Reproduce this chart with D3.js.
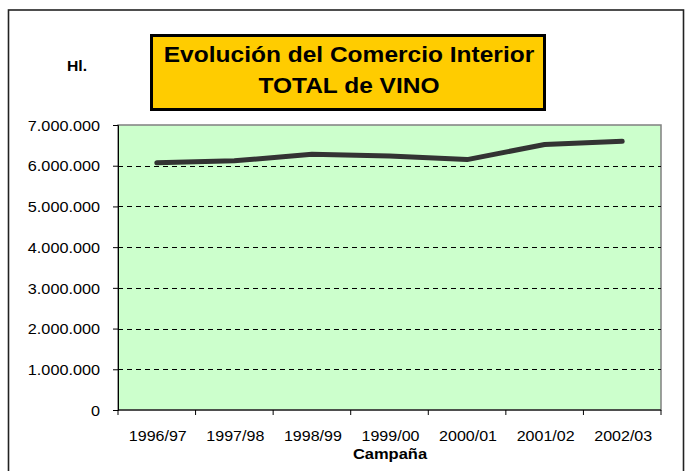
<!DOCTYPE html>
<html>
<head>
<meta charset="utf-8">
<script src="https://cdn.jsdelivr.net/npm/d3@7"></script>
<style>
  body { margin: 0; background: #fff; }
  text { font-family: Arial, "Liberation Sans", sans-serif; }
</style>
</head>
<body>
<svg id="chart" width="691" height="471"></svg>
<script>
// campañas y total de vino (Hl.)
var campanas = ['1996/97', '1997/98', '1998/99', '1999/00', '2000/01', '2001/02', '2002/03']
var totalVino = [6070000, 6120000, 6280000, 6240000, 6150000, 6520000, 6600000]
var yTicks = [0, 1000000, 2000000, 3000000, 4000000, 5000000, 6000000, 7000000]

var width = 691, height = 471
var plot = {left: 118, right: 661, top: 125, bottom: 410}

var svg = d3.select('#chart')

// the original text is a bit wider than Arial, stretch it horizontally
function stretch(sel, k) {
    sel.each(function() {
        var t = d3.select(this)
        var x = +t.attr('x') || 0
        t.attr('x', x / k).attr('transform', 'scale(' + k + ',1)')
    })
}

// marco exterior
svg.append('rect')
    .attr('x', 8.5).attr('y', 10)
    .attr('width', 675).attr('height', 475)
    .attr('fill', 'none').attr('stroke', '#222').attr('stroke-width', 1.6)

var x = d3.scaleBand().domain(campanas).range([plot.left, plot.right])
var y = d3.scaleLinear().domain([0, 7000000]).range([plot.bottom, plot.top])

// fondo del área de trazado
svg.append('rect')
    .attr('x', plot.left).attr('y', plot.top)
    .attr('width', plot.right - plot.left).attr('height', plot.bottom - plot.top)
    .attr('fill', '#ccffcc').attr('stroke', '#808080').attr('stroke-width', 1.5)

// líneas de división discontinuas
svg.append('g')
    .selectAll('line')
    .data(yTicks.filter(d => d > 0 && d < 7000000))
    .enter()
    .append('line')
    .attr('x1', plot.left).attr('x2', plot.right)
    .attr('y1', d => Math.round(y(d)) + 0.5).attr('y2', d => Math.round(y(d)) + 0.5)
    .attr('stroke', '#000').attr('stroke-dasharray', '5,4')

var fmt = d => d === 0 ? '0' : d3.format(',')(d).replace(/,/g, '.')

// eje Y
var yAxis = svg.append('g')
    .attr('transform', 'translate(' + plot.left + ',0)')
    .call(d3.axisLeft(y).tickValues(yTicks).tickFormat(fmt).tickSize(5).tickPadding(13))
yAxis.select('.domain').attr('stroke', '#000')
yAxis.selectAll('text')
    .attr('font-size', 14.5).attr('fill', '#000').attr('dy', '0.36em')
    .style('font-family', 'Arial, "Liberation Sans", sans-serif')
    .call(stretch, 1.12)

// eje X (marcas entre categorías)
var xAxis = svg.append('g')
    .attr('transform', 'translate(0,' + plot.bottom + ')')
xAxis.append('line')
    .attr('x1', plot.left).attr('x2', plot.right)
    .attr('stroke', '#000')
xAxis.selectAll('line.tick')
    .data(campanas.concat(['end']))
    .enter()
    .append('line')
    .attr('class', 'tick')
    .attr('x1', (d, i) => i < campanas.length ? x(d) : plot.right)
    .attr('x2', (d, i) => i < campanas.length ? x(d) : plot.right)
    .attr('y1', 0).attr('y2', 5)
    .attr('stroke', '#000')
xAxis.selectAll('text')
    .data(campanas)
    .enter()
    .append('text')
    .attr('x', d => x(d) + x.bandwidth() / 2 + 1)
    .attr('y', 31)
    .attr('text-anchor', 'middle')
    .attr('font-size', 15)
    .text(d => d)
    .call(stretch, 1.07)

// serie
var line = d3.line()
    .x((d, i) => x(campanas[i]) + x.bandwidth() / 2)
    .y(d => y(d))

svg.append('path')
    .datum(totalVino)
    .attr('d', line)
    .attr('fill', 'none')
    .attr('stroke', '#333333')
    .attr('stroke-width', 5)
    .attr('stroke-linecap', 'round')
    .attr('stroke-linejoin', 'round')

// títulos
svg.append('text')
    .attr('x', 390).attr('y', 459)
    .attr('text-anchor', 'middle')
    .attr('font-size', 15).attr('font-weight', 'bold')
    .text('Campaña')
    .call(stretch, 1.1)

svg.append('text')
    .attr('x', 77).attr('y', 71)
    .attr('text-anchor', 'middle')
    .attr('font-size', 15).attr('font-weight', 'bold')
    .text('Hl.')
    .call(stretch, 1.05)

svg.append('rect')
    .attr('x', 151.5).attr('y', 35.5)
    .attr('width', 393).attr('height', 74)
    .attr('fill', '#ffcc00').attr('stroke', '#000').attr('stroke-width', 3)

svg.append('text')
    .attr('x', 349).attr('y', 62)
    .attr('text-anchor', 'middle')
    .attr('font-size', 22).attr('font-weight', 'bold')
    .text('Evolución del Comercio Interior')
    .call(stretch, 1.115)

svg.append('text')
    .attr('x', 349).attr('y', 93)
    .attr('text-anchor', 'middle')
    .attr('font-size', 22).attr('font-weight', 'bold')
    .text('TOTAL de VINO')
    .call(stretch, 1.115)
</script>
</body>
</html>
